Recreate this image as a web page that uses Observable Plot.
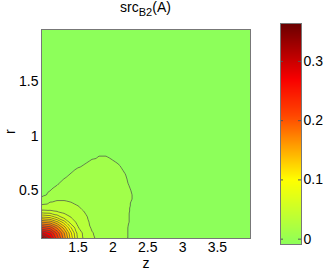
<!DOCTYPE html>
<html>
<head>
<meta charset="utf-8">
<script src="https://cdn.jsdelivr.net/npm/d3@7"></script>
<script src="https://cdn.jsdelivr.net/npm/@observablehq/plot@0.6"></script>
<style>
  html, body { margin: 0; padding: 0; background: white; }
  #wrap { position: relative; width: 327px; height: 273px; overflow: hidden; font-family: 'Liberation Sans', Arial, Helvetica, sans-serif; }
  #wrap > svg { position: absolute; left: 0; top: 0; }
  #title { position: absolute; left: 0; top: 0; width: 291px; text-align: center; font-size: 14px; line-height: 15px; color: #000; }
  #title sub { font-size: 11px; vertical-align: -4px; line-height: 0; }
</style>
</head>
<body>
<div id="wrap"><div id="title">src<sub>B2</sub>(A)</div></div>
<script>
// grid coordinates (z along x, r along y)
const zGrid = [0.975, 1.1, 1.2, 1.3, 1.4, 1.5, 1.6, 1.7, 1.8, 1.9, 2.0, 2.1, 2.2, 2.3, 2.4, 2.6, 3.0, 3.975];
const rGrid = [0.06, 0.11, 0.16, 0.21, 0.26, 0.31, 0.36, 0.41, 0.46, 0.55, 0.65, 0.75, 0.85, 0.95, 1.1, 1.5, 1.98];
// estimated source values, one row per r
const src = [
  [0.360,0.300,0.241,0.181,0.121,0.065,0.044,0.033,0.026,0.021,0.017,0.014,0.0105,0.007,0.005,0.003,0.001,0],
  [0.297,0.273,0.225,0.171,0.113,0.061,0.043,0.031,0.026,0.021,0.017,0.014,0.0105,0.007,0.005,0.003,0.001,0],
  [0.234,0.220,0.186,0.141,0.090,0.051,0.038,0.028,0.024,0.020,0.016,0.013,0.0105,0.007,0.005,0.003,0.001,0],
  [0.170,0.162,0.136,0.100,0.058,0.046,0.034,0.027,0.023,0.019,0.016,0.013,0.011,0.008,0.005,0.003,0.001,0],
  [0.107,0.100,0.080,0.058,0.049,0.039,0.032,0.026,0.022,0.019,0.016,0.013,0.011,0.008,0.005,0.003,0.001,0],
  [0.055,0.053,0.049,0.045,0.040,0.035,0.029,0.025,0.021,0.018,0.015,0.013,0.011,0.0085,0.005,0.003,0.001,0],
  [0.034,0.037,0.037,0.036,0.034,0.030,0.026,0.023,0.020,0.017,0.015,0.013,0.011,0.009,0.006,0.003,0.001,0],
  [0.016,0.027,0.030,0.030,0.028,0.025,0.022,0.020,0.018,0.016,0.014,0.013,0.011,0.0095,0.006,0.003,0.001,0],
  [0.006,0.013,0.018,0.020,0.020,0.019,0.018,0.017,0.016,0.015,0.014,0.013,0.0115,0.0095,0.006,0.003,0.001,0],
  [0.002,0.006,0.010,0.013,0.015,0.016,0.016,0.016,0.015,0.014,0.013,0.012,0.0108,0.008,0.005,0.003,0.001,0],
  [0.001,0.002,0.005,0.008,0.0105,0.013,0.014,0.0145,0.0145,0.014,0.013,0.012,0.0095,0.006,0.004,0.002,0.001,0],
  [0,0.001,0.002,0.004,0.006,0.008,0.0098,0.0115,0.012,0.012,0.011,0.0095,0.007,0.005,0.003,0.002,0.001,0],
  [0,0,0.001,0.002,0.003,0.004,0.006,0.0075,0.009,0.009,0.0075,0.006,0.005,0.003,0.002,0.001,0,0],
  [0,0,0,0.001,0.001,0.002,0.003,0.004,0.005,0.005,0.004,0.003,0.002,0.001,0.001,0,0,0],
  [0,0,0,0,0,0.001,0.001,0.002,0.002,0.002,0.002,0.001,0.001,0,0,0,0,0],
  [0,0,0,0,0,0,0,0,0,0,0,0,0,0,0,0,0,0],
  [0,0,0,0,0,0,0,0,0,0,0,0,0,0,0,0,0,0]
];
const levels = [0.01,0.03,0.05,0.07,0.09,0.11,0.13,0.15,0.17,0.19,0.21,0.23,0.25,0.27,0.29,0.31,0.33,0.35];
const cMin = -0.009, cMax = 0.364;
const colorStops = [cMin, 0.10, 0.16, 0.21, 0.27, cMax];
const colorRange = ["#8dff5a", "#ffff00", "#ff9a00", "#ff4400", "#f80000", "#6a0000"];
const xTicks = [1.5, 2, 2.5, 3, 3.5];
const yTicks = [0.5, 1, 1.5];
const cTicks = [0, 0.1, 0.2, 0.3];

const points = rGrid.flatMap((r, i) => zGrid.map((z, j) => ({z, r, v: src[i][j]})));
const font = "'Liberation Sans', Arial, Helvetica, sans-serif";
const colorOpt = {type: "linear", domain: colorStops, range: colorRange};

const main = Plot.plot({
  width: 327, height: 273,
  marginLeft: 41, marginRight: 77, marginTop: 29, marginBottom: 35,
  style: {fontFamily: font, fontSize: "14px", background: "white", color: "#000"},
  x: {domain: [0.975, 3.975]},
  y: {domain: [0.06, 1.98]},
  color: colorOpt,
  marks: [
    Plot.contour(points, {x: "z", y: "r", fill: "v", interpolate: "barycentric", thresholds: [cMin, ...levels], pixelSize: 1, stroke: "none"}),
    Plot.contour(points, {x: "z", y: "r", value: "v", interpolate: "barycentric", thresholds: levels, pixelSize: 1, fill: "none", stroke: "#4a4a4a", strokeWidth: 0.7}),
    Plot.frame({stroke: "#777"}),
    Plot.axisX({ticks: xTicks, tickSize: 0, tickPadding: 4, label: null, tickFormat: d => String(d)}),
    Plot.axisY({ticks: yTicks, tickSize: 0, tickPadding: 3, label: null, tickFormat: d => String(d)}),
    Plot.text(["z"], {frameAnchor: "bottom", dy: 29, text: d => d}),
    Plot.text(["r"], {frameAnchor: "left", dx: -31, rotate: -90, text: d => d})
  ]
});

const bar = Plot.plot({
  width: 327, height: 273,
  marginLeft: 280, marginRight: 26, marginTop: 23, marginBottom: 29,
  style: {fontFamily: font, fontSize: "14px", background: "transparent", color: "#000"},
  x: {domain: [0, 1], axis: null},
  y: {domain: [cMin, cMax], axis: null},
  color: colorOpt,
  marks: [
    Plot.raster({fill: (x, y) => y, x1: 0, x2: 1, y1: cMin, y2: cMax, pixelSize: 1}),
    Plot.ruleY(cTicks, {stroke: "#555", insetRight: 18}),
    Plot.ruleY(cTicks, {stroke: "#555", insetLeft: 18}),
    Plot.frame({stroke: "#777"}),
    Plot.axisY({anchor: "right", ticks: cTicks, tickSize: 0, tickPadding: 2, label: null, tickFormat: d => String(d)})
  ]
});

const wrap = document.getElementById("wrap");
wrap.insertBefore(bar, wrap.firstChild);
wrap.insertBefore(main, wrap.firstChild);
</script>
</body>
</html>
